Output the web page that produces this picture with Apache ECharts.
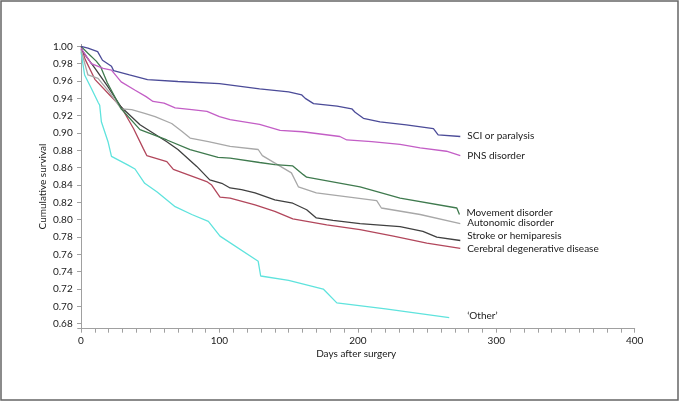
<!DOCTYPE html>
<html><head><meta charset="utf-8">
<script src="https://cdn.jsdelivr.net/npm/echarts@6/dist/echarts.min.js"></script>
<style>html,body{margin:0;padding:0;background:#fff}#c{width:680px;height:402px}</style>
</head><body><div id="c"></div>
<script>
const seriesNames = ['SCI or paralysis','PNS disorder','Movement disorder','Autonomic disorder','Stroke or hemiparesis','Cerebral degenerative disease','\u2018Other\u2019'];
const sci = [[0,1.0],[5,0.998],[12,0.994],[15.5,0.984],[22,0.977],[23.5,0.972],[35,0.967],[48,0.9616],[70,0.9595],[100,0.957],[129,0.951],[150,0.9475],[159.5,0.944],[162,0.940],[168,0.934],[185,0.931],[195.6,0.928],[198,0.924],[204,0.917],[216,0.913],[235,0.9095],[254.6,0.905],[258,0.898],[274,0.896]];
const pns = [[0,0.998],[7.4,0.980],[16,0.9746],[22,0.9727],[29,0.959],[38.8,0.9497],[47,0.942],[52,0.9365],[60,0.9345],[68,0.929],[80,0.927],[91,0.925],[100,0.919],[107.7,0.9154],[129,0.910],[143.8,0.903],[160,0.9015],[187,0.896],[192,0.892],[210,0.890],[230.5,0.887],[245,0.883],[264,0.879],[274,0.874]];
const movement = [[0,1.0],[5,0.992],[11,0.983],[14,0.977],[19,0.958],[29,0.928],[42.6,0.904],[62,0.892],[78.8,0.8808],[99,0.872],[107.7,0.871],[129,0.866],[140,0.8635],[153,0.862],[160.6,0.852],[163,0.849],[201.6,0.838],[230.5,0.825],[271.5,0.8135],[273.4,0.806]];
const autonomic = [[0,0.996],[5,0.967],[12.3,0.963],[20,0.948],[29,0.928],[36.6,0.927],[46,0.9227],[53.5,0.919],[65.5,0.911],[72.8,0.902],[78.8,0.8942],[92,0.890],[107.7,0.8846],[128,0.881],[131,0.874],[152,0.854],[157,0.838],[170,0.831],[213.6,0.822],[217,0.8135],[245,0.806],[274,0.7954]];
const stroke = [[0,0.997],[4,0.988],[10,0.975],[20,0.952],[29,0.930],[42.6,0.9096],[62,0.890],[70,0.881],[83.6,0.8615],[93,0.846],[101.7,0.842],[107.7,0.8366],[116,0.8346],[125.7,0.831],[140,0.823],[153,0.819],[163,0.8115],[170,0.802],[182,0.7992],[201.6,0.7954],[230.5,0.792],[247,0.7865],[257,0.780],[274,0.776]];
const cerebral = [[0,1.0],[3,0.985],[10,0.962],[20,0.945],[29,0.930],[38,0.905],[45,0.882],[47.5,0.874],[62,0.867],[66.7,0.858],[90.8,0.844],[94.4,0.840],[100.4,0.826],[107.7,0.825],[125.7,0.817],[140,0.8096],[153,0.801],[177.5,0.794],[201.6,0.7885],[225.7,0.781],[249.8,0.773],[274,0.767]];
const other = [[0,0.994],[2.6,0.967],[7.5,0.9515],[12.5,0.935],[13.5,0.932],[14.7,0.913],[19.5,0.890],[22,0.873],[34,0.863],[39,0.8585],[46,0.842],[55,0.832],[68,0.815],[80,0.806],[92,0.798],[100.4,0.781],[128,0.752],[129.8,0.735],[150,0.730],[175,0.720],[184.8,0.704],[220,0.697],[266,0.687]];
const xTickLabels = [0,100,200,300,400];
const xMinorTicks = [0,10,20,30,40,50,60,70,80,90,100,110,120,130,140,150,160,170,180,190,200,210,220,230,240,250,260,270,280,290,300,310,320,330,340,350,360,370,380,390,400];
const yTickLabels = [0.68,0.70,0.72,0.74,0.76,0.78,0.80,0.82,0.84,0.86,0.88,0.90,0.92,0.94,0.96,0.98,1.00];

const allData = [sci,pns,movement,autonomic,stroke,cerebral,other];
const colors = ['#4b4b98','#c35ec6','#3f7a4e','#a8a8a8','#404040','#b2475c','#5fe3dd'];
const labelDist = [7,7,7,7,7,7,18];
const labelDy = [-1,0,-2,-1,-4.5,0,-1.5];
const FONT = 'Lato';

const chart = echarts.init(document.getElementById('c'), null, {renderer:'canvas'});
chart.setOption({
  animation:false,
  graphic:[{type:'rect',shape:{x:1,y:1,width:677,height:399},style:{fill:'none',stroke:'#666',lineWidth:1.5},silent:true}],
  grid:{left:77.7,top:44.4,width:557,height:284.3,containLabel:false},
  xAxis:{type:'value',min:-2.4,max:400,
    name:'Days after surgery',nameLocation:'middle',nameGap:20,nameMoveOverlap:false,
    nameTextStyle:{fontFamily:FONT,fontSize:10,color:'#1a1a1a'},
    axisLine:{show:true,lineStyle:{color:'#a0a0a0',width:1}},
    axisTick:{show:true,length:4,customValues:xMinorTicks,lineStyle:{color:'#a0a0a0'}},
    axisLabel:{customValues:xTickLabels,fontFamily:FONT,fontSize:10,color:'#1a1a1a',margin:7},
    splitLine:{show:false}},
  yAxis:{type:'value',min:0.6742,max:1.0023,
    name:'Cumulative survival',nameLocation:'middle',nameGap:30,nameRotate:90,nameMoveOverlap:false,
    nameTextStyle:{fontFamily:FONT,fontSize:10,color:'#1a1a1a'},
    axisLine:{show:true,lineStyle:{color:'#a0a0a0',width:1}},
    axisTick:{show:true,length:4,customValues:yTickLabels,lineStyle:{color:'#a0a0a0'}},
    axisLabel:{customValues:yTickLabels,formatter:v=>v.toFixed(2),fontFamily:FONT,fontSize:10,color:'#1a1a1a',margin:5},
    splitLine:{show:false}},
  series: allData.map((d,i)=>({
    name:seriesNames[i],type:'line',data:d,showSymbol:false,symbol:'none',
    lineStyle:{color:colors[i],width:1.3},
    endLabel:{show:true,formatter:seriesNames[i],distance:labelDist[i],offset:[0,labelDy[i]],
      fontFamily:FONT,fontSize:10,color:'#1a1a1a'},
    z:10-i
  }))
});
</script></body></html>
